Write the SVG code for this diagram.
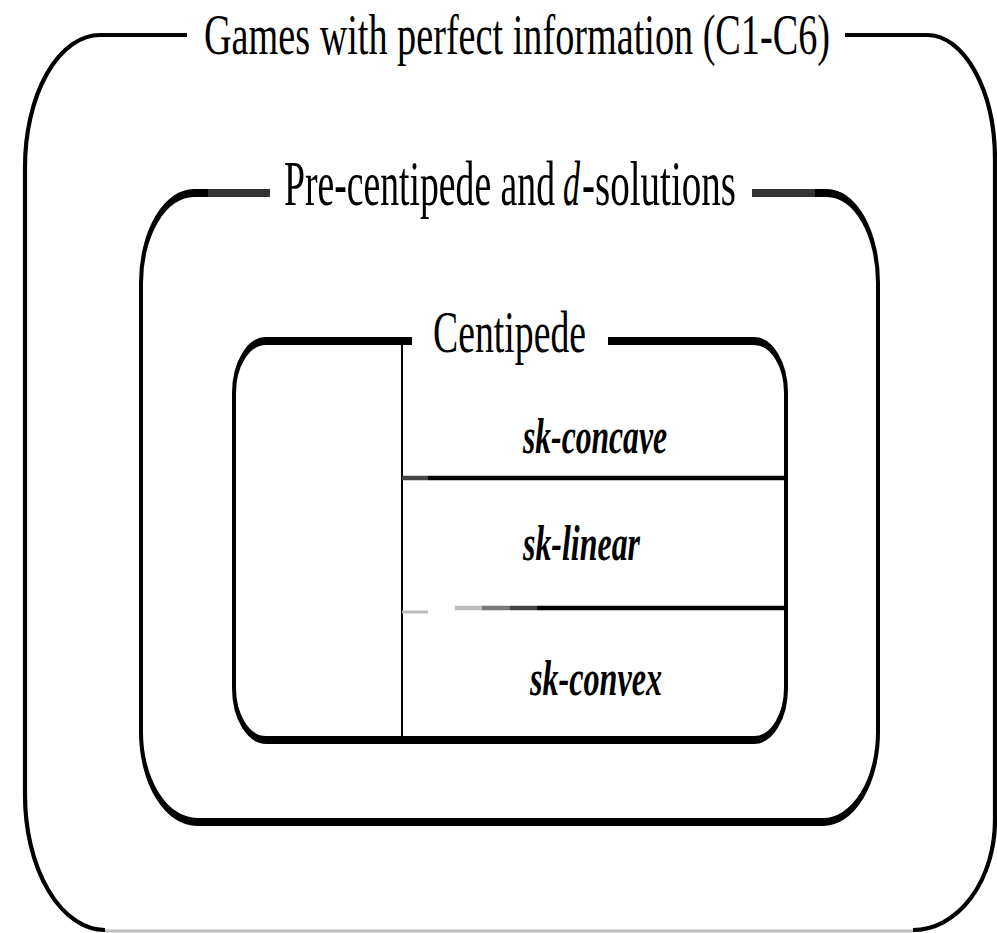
<svg xmlns="http://www.w3.org/2000/svg" width="997" height="933" viewBox="0 0 997 933">
<style>
.ob{fill:none;stroke:#000;stroke-width:4.2}
.box{fill:none;stroke:#000;stroke-width:4;stroke-linejoin:round}
.t{font-family:"Liberation Serif","Times New Roman",serif;fill:#000}
.lab{font-family:"Liberation Serif","Times New Roman",serif;font-style:italic;font-weight:bold;fill:#000;font-size:32px}
.div{stroke:#000;stroke-width:4.5}
</style>
<rect width="997" height="933" fill="#fff"/>
<g id="outer">
<path class="ob" d="M187,35 H100 A75,132 0 0 0 25,167 V795 A80,135 0 0 0 105,930"/>
<path class="ob" d="M913,930 A82,110 0 0 0 995,820 V160 A68,125 0 0 0 927,35 H845"/>
<line x1="105" y1="931" x2="913" y2="931" stroke="#bdbdbd" stroke-width="3"/>
<text class="t" transform="scale(1,1.5263)" x="204" y="35.38" font-size="38" textLength="626" lengthAdjust="spacingAndGlyphs">Games with perfect information (C1-C6)</text>
</g>
<g id="middle">
<g transform="scale(1,2)">
<path class="box" d="M208,96.5 H194 A53,45 0 0 0 141,141.5 V366 A56,45 0 0 0 197,411 H823 A55,45 0 0 0 878,366 V141.5 A51,45 0 0 0 827,96.5 H815"/>
<line x1="208" y1="96.5" x2="270" y2="96.5" stroke="#333" stroke-width="4"/>
<line x1="752" y1="96.5" x2="815" y2="96.5" stroke="#333" stroke-width="4"/>
</g>
<g transform="scale(1,1.75)">
<text class="t" x="284" y="117.14" font-size="36" textLength="271" lengthAdjust="spacingAndGlyphs">Pre-centipede and</text>
<text class="t" x="563" y="117.14" font-size="36" font-style="italic" textLength="17" lengthAdjust="spacingAndGlyphs">d</text>
<text class="t" x="582" y="117.14" font-size="36" textLength="154" lengthAdjust="spacingAndGlyphs">-solutions</text>
</g>
</g>
<g id="centipede">
<g transform="scale(1,2)">
<path class="box" d="M412,170.5 H266 A32,26 0 0 0 234,196.5 V344 A32,26 0 0 0 266,370 H754 A32,26 0 0 0 786,344 V196.5 A32,26 0 0 0 754,170.5 H608"/>
</g>
<text class="t" transform="scale(1,1.6667)" x="433" y="211.2" font-size="36" textLength="153" lengthAdjust="spacingAndGlyphs">Centipede</text>
</g>
<g id="connectors">
<line x1="402" y1="342" x2="402" y2="740" stroke="#000" stroke-width="2"/>
<line x1="402" y1="478" x2="428" y2="478" stroke="#444" stroke-width="4.5"/>
<line class="div" x1="428" y1="478" x2="786" y2="478"/>
<line x1="402" y1="612" x2="428" y2="612" stroke="#bbb" stroke-width="3"/>
<line x1="455" y1="608" x2="482" y2="608" stroke="#bbb" stroke-width="4.5"/>
<line x1="482" y1="608" x2="510" y2="608" stroke="#777" stroke-width="4.5"/>
<line x1="510" y1="608" x2="537" y2="608" stroke="#444" stroke-width="4.5"/>
<line class="div" x1="537" y1="608" x2="786" y2="608"/>
</g>
<g id="sk-concave"><text class="lab" transform="scale(1,1.5625)" x="523" y="289.9" textLength="144" lengthAdjust="spacingAndGlyphs">sk-concave</text></g>
<g id="sk-linear"><text class="lab" transform="scale(1,1.5625)" x="523" y="358.4" textLength="117" lengthAdjust="spacingAndGlyphs">sk-linear</text></g>
<g id="sk-convex"><text class="lab" transform="scale(1,1.5625)" x="530" y="444.8" textLength="132" lengthAdjust="spacingAndGlyphs">sk-convex</text></g>
</svg>
